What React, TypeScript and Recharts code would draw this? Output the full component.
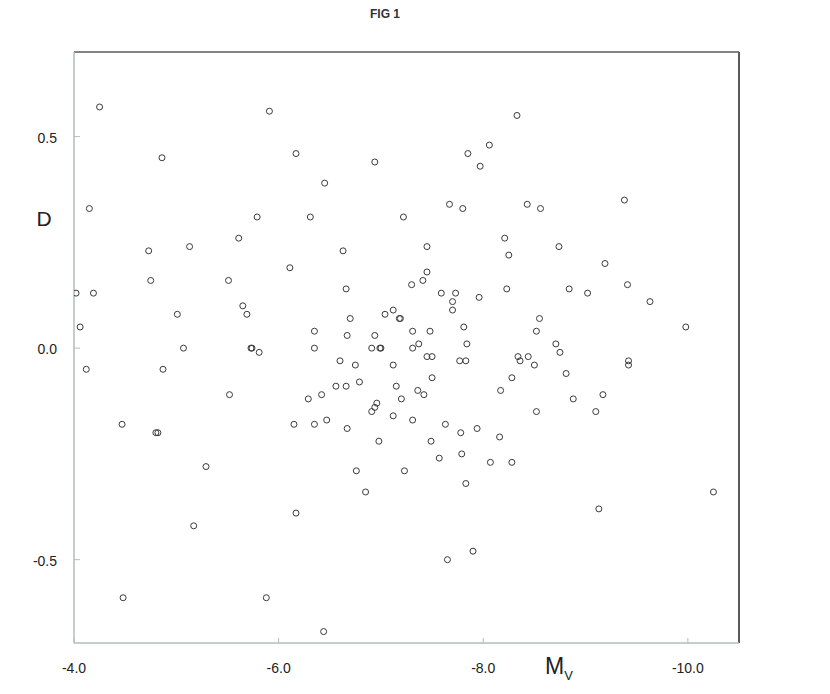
import React from 'react'
import { ScatterChart, Scatter, XAxis, YAxis, ReferenceLine } from 'recharts'

// absolute magnitude (x) and D (y)
const mv = [
  -4.25, -5.91, -8.33, -4.86, -6.17, -6.94, -8.06, -7.85, -7.97, -6.45,
  -4.15, -5.79, -6.31, -7.22, -7.67, -7.8, -8.43, -8.56, -9.38, -5.61,
  -4.73, -5.13, -6.63, -7.45, -8.21, -8.25, -8.74, -9.19, -6.11, -4.75,
  -5.51, -7.45, -7.41, -7.3, -6.66, -4.02, -4.19, -7.59, -7.73, -7.96,
  -8.23, -8.84, -9.02, -9.41, -9.63, -9.98, -5.65, -5.01, -5.69, -7.7,
  -7.7, -7.04, -7.12, -7.18, -7.19, -6.7, -8.55, -4.06, -7.81, -6.35,
  -6.67, -6.94, -7.31, -7.48, -8.52, -5.07, -5.73, -5.74, -5.81, -6.35,
  -6.91, -6.99, -7.0, -7.31, -7.37, -7.84, -7.45, -7.5, -6.6, -6.75,
  -7.12, -7.77, -7.83, -8.34, -8.36, -8.44, -8.5, -8.71, -8.75, -8.81,
  -9.42, -9.42, -4.12, -4.87, -7.5, -6.79, -6.56, -6.66, -7.15, -8.28,
  -8.17, -7.36, -7.42, -7.2, -5.52, -6.29, -6.42, -6.96, -6.94, -6.91,
  -7.12, -7.31, -8.52, -8.88, -9.17, -9.1, -4.47, -4.8, -4.82, -6.15,
  -6.35, -6.47, -6.67, -7.63, -7.78, -7.94, -8.16, -6.98, -7.49, -7.57,
  -7.79, -8.07, -8.28, -5.29, -6.76, -7.23, -7.83, -6.85, -10.25, -9.13,
  -6.17, -5.17, -7.65, -7.9, -4.48, -5.88, -6.44
]
const dVals = [
  0.57, 0.56, 0.55, 0.45, 0.46, 0.44, 0.48, 0.46, 0.43, 0.39,
  0.33, 0.31, 0.31, 0.31, 0.34, 0.33, 0.34, 0.33, 0.35, 0.26,
  0.23, 0.24, 0.23, 0.24, 0.26, 0.22, 0.24, 0.2, 0.19, 0.16,
  0.16, 0.18, 0.16, 0.15, 0.14, 0.13, 0.13, 0.13, 0.13, 0.12,
  0.14, 0.14, 0.13, 0.15, 0.11, 0.05, 0.1, 0.08, 0.08, 0.11,
  0.09, 0.08, 0.09, 0.07, 0.07, 0.07, 0.07, 0.05, 0.05, 0.04,
  0.03, 0.03, 0.04, 0.04, 0.04, 0.0, 0.0, 0.0, -0.01, 0.0,
  0.0, 0.0, 0.0, 0.0, 0.01, 0.01, -0.02, -0.02, -0.03, -0.04,
  -0.04, -0.03, -0.03, -0.02, -0.03, -0.02, -0.04, 0.01, -0.01, -0.06,
  -0.03, -0.04, -0.05, -0.05, -0.07, -0.08, -0.09, -0.09, -0.09, -0.07,
  -0.1, -0.1, -0.11, -0.12, -0.11, -0.12, -0.11, -0.13, -0.14, -0.15,
  -0.16, -0.17, -0.15, -0.12, -0.11, -0.15, -0.18, -0.2, -0.2, -0.18,
  -0.18, -0.17, -0.19, -0.18, -0.2, -0.19, -0.21, -0.22, -0.22, -0.26,
  -0.25, -0.27, -0.27, -0.28, -0.29, -0.29, -0.32, -0.34, -0.34, -0.38,
  -0.39, -0.42, -0.5, -0.48, -0.59, -0.59, -0.67
]
const xTicks = [-4, -6, -8, -10]
const yTicks = [-0.5, 0, 0.5]

const points = mv.map((x, i) => ({ mv: x, d: dVals[i] }))

const AXIS_GREY = '#b4bcbc'
const FRAME = '#5a5a5a'
const FONT = '"Liberation Sans", Arial, sans-serif'

const XTick = (props: any) => {
  const { x, y, payload } = props
  return (
    <g>
      <line x1={x} y1={y} x2={x} y2={y - 5} stroke={AXIS_GREY} />
      <text x={x} y={y + 30} textAnchor="middle" fontSize={14} fontFamily={FONT} fill="#222">
        {Number(payload.value).toFixed(1)}
      </text>
    </g>
  )
}

const YTick = (props: any) => {
  const { x, y, payload } = props
  return (
    <g>
      <line x1={x} y1={y} x2={x + 6} y2={y} stroke={AXIS_GREY} />
      <text x={x - 17} y={y + 6} textAnchor="end" fontSize={14} fontFamily={FONT} fill="#222">
        {Number(payload.value).toFixed(1)}
      </text>
    </g>
  )
}

const Ring = (props: any) => (
  <circle cx={props.cx} cy={props.cy} r={3} fill="none" stroke="#3a3a3a" strokeWidth={1} />
)

export default function App() {
  return (
    <div style={{ position: 'absolute', left: 0, top: 0, width: 830, height: 694, background: '#fff', fontFamily: FONT }}>
      <div style={{ position: 'absolute', left: 335, width: 100, top: 7, textAlign: 'center', fontSize: 12, fontWeight: 'bold', color: '#333' }}>
        FIG 1
      </div>
      <div style={{ position: 'absolute', left: 24, width: 40, top: 207, textAlign: 'center', fontSize: 21, color: '#222' }}>
        D
      </div>
      <div style={{ position: 'absolute', left: 545, top: 653, fontSize: 23, color: '#222' }}>
        M<sub style={{ fontSize: 13 }}>V</sub>
      </div>
      <ScatterChart width={830} height={694} margin={{ top: 52, right: 91, left: 0, bottom: 0 }}>
        <XAxis
          type="number"
          dataKey="mv"
          domain={[-10.5, -4]}
          reversed
          allowDataOverflow
          ticks={xTicks}
          interval={0}
          height={51}
          tickSize={0}
          tickMargin={0}
          tickLine={false}
          axisLine={{ stroke: AXIS_GREY, strokeWidth: 1.5 }}
          tick={<XTick />}
        />
        <YAxis
          type="number"
          dataKey="d"
          domain={[-0.697, 0.7]}
          allowDataOverflow
          ticks={yTicks}
          interval={0}
          width={74}
          tickSize={0}
          tickMargin={0}
          tickLine={false}
          axisLine={{ stroke: AXIS_GREY, strokeWidth: 1.5 }}
          tick={<YTick />}
        />
        <ReferenceLine y={0.7} stroke={FRAME} strokeWidth={1.5} />
        <ReferenceLine x={-10.5} stroke={FRAME} strokeWidth={2} />
        <Scatter data={points} shape={<Ring />} isAnimationActive={false} />
      </ScatterChart>
    </div>
  )
}
